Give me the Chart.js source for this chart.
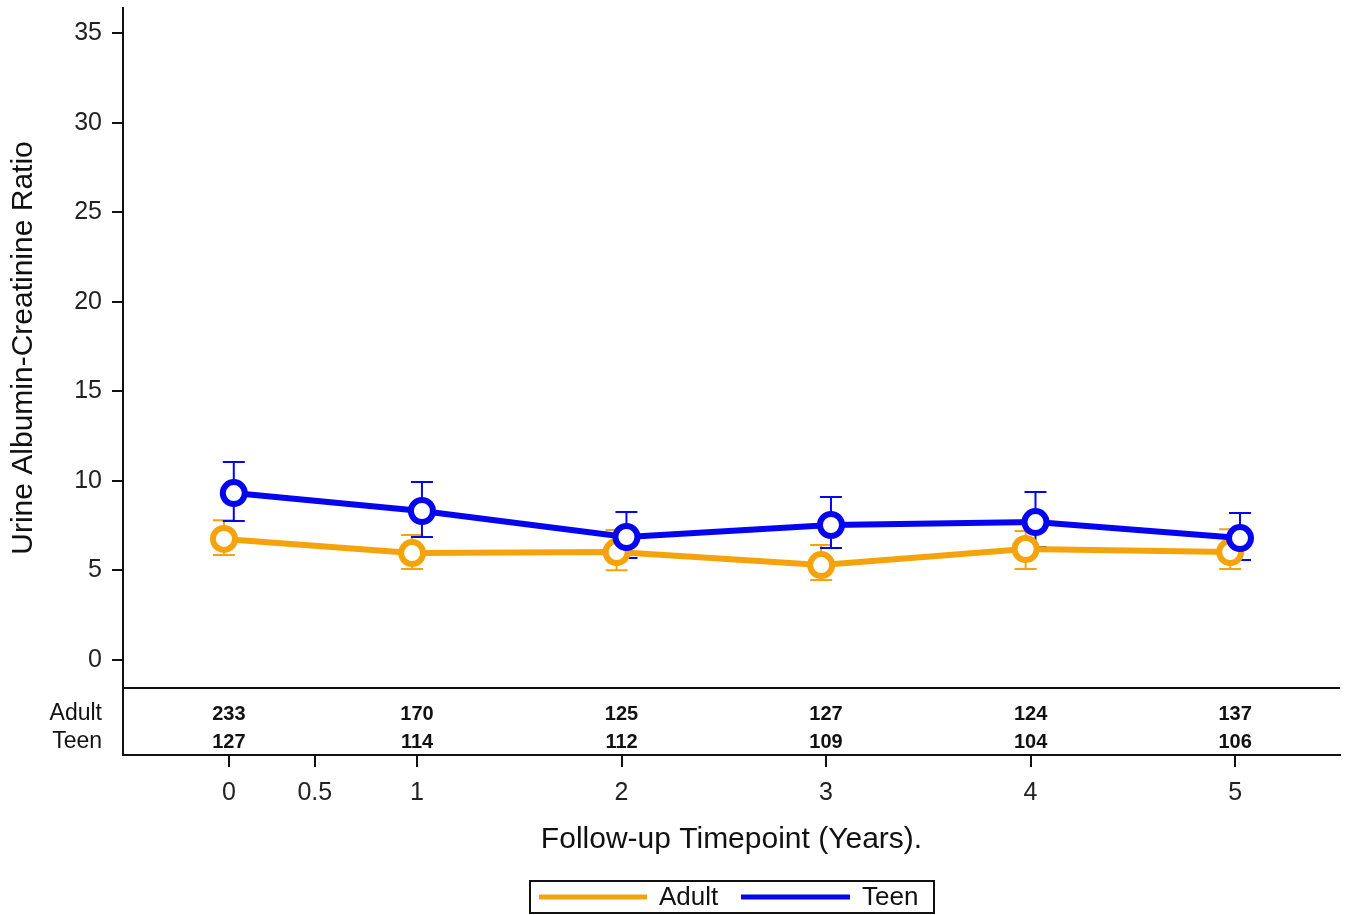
<!DOCTYPE html>
<html>
<head>
<meta charset="utf-8">
<script src="https://cdn.jsdelivr.net/npm/chart.js@4"></script>
<style>
  body { margin: 0; background: #fff; }
  #wrap { width: 1349px; height: 915px; }
</style>
</head>
<body>
<div id="wrap"><canvas id="uacrChart" width="1349" height="915"></canvas></div>
<script>
// Data
const timepoints = [0.08, 1, 2, 3, 4, 5];
const tickValues = [0.08, 0.5, 1, 2, 3, 4, 5];
const tickLabels = ['0', '0.5', '1', '2', '3', '4', '5'];
const yTicks = [0, 5, 10, 15, 20, 25, 30, 35];

const adultMean  = [6.76, 5.97, 6.03, 5.30, 6.20, 6.03];
const adultUpper = [7.80, 6.98, 7.26, 6.42, 7.20, 7.30];
const adultLower = [5.86, 5.08, 5.02, 4.47, 5.08, 5.08];

const teenMean  = [9.32, 8.32, 6.87, 7.54, 7.70, 6.81];
const teenUpper = [11.06, 9.94, 8.26, 9.10, 9.38, 8.21];
const teenLower = [7.76, 6.87, 5.70, 6.25, 6.31, 5.58];

const adultN = [233, 170, 125, 127, 124, 137];
const teenN  = [127, 114, 112, 109, 104, 106];

const ORANGE = '#F5A30C';
const BLUE = '#0505F0';
const FONT = '"Liberation Sans", Arial, sans-serif';
const jitter = 0.024;
const tableLine = -1.56;

function pts(means, shift) {
    return means.map((m, i) => ({ x: timepoints[i] + shift, y: m }));
}

// error bars, drawn before points so circles sit on top
const errorBars = {
    id: 'errorBars',
    beforeDatasetsDraw(chart) {
        const { ctx, scales: { x, y } } = chart;
        const sets = [
            { up: adultUpper, lo: adultLower, shift: -jitter, color: ORANGE },
            { up: teenUpper, lo: teenLower, shift: jitter, color: BLUE }
        ];
        ctx.save();
        ctx.lineWidth = 2;
        sets.forEach(s => {
            ctx.strokeStyle = s.color;
            timepoints.forEach((t, i) => {
                const px = x.getPixelForValue(t + s.shift);
                const yt = y.getPixelForValue(s.up[i]);
                const yb = y.getPixelForValue(s.lo[i]);
                ctx.beginPath();
                ctx.moveTo(px, yt); ctx.lineTo(px, yb);
                ctx.moveTo(px - 11, yt); ctx.lineTo(px + 11, yt);
                ctx.moveTo(px - 11, yb); ctx.lineTo(px + 11, yb);
                ctx.stroke();
            });
        });
        ctx.restore();
    }
};

// at-risk table, titles and legend box
const extras = {
    id: 'extras',
    afterDraw(chart) {
        const { ctx, chartArea: a, scales: { x, y } } = chart;
        ctx.save();
        // table separator line
        const ly = y.getPixelForValue(tableLine);
        ctx.strokeStyle = '#111';
        ctx.lineWidth = 2;
        ctx.beginPath();
        ctx.moveTo(a.left, ly); ctx.lineTo(a.right, ly);
        ctx.stroke();

        // row labels
        ctx.fillStyle = '#111';
        ctx.font = '23px ' + FONT;
        ctx.textAlign = 'right';
        ctx.textBaseline = 'middle';
        ctx.fillText('Adult', 102, 714);
        ctx.fillText('Teen', 102, 742);

        // counts
        ctx.font = 'bold 20px ' + FONT;
        ctx.textAlign = 'center';
        timepoints.forEach((t, i) => {
            const px = x.getPixelForValue(t);
            ctx.fillText(String(adultN[i]), px, 714);
            ctx.fillText(String(teenN[i]), px, 742);
        });

        // x title
        ctx.font = '30px ' + FONT;
        ctx.fillText('Follow-up Timepoint (Years).', (a.left + a.right) / 2, 840);

        // y title
        ctx.save();
        ctx.translate(24, (a.top + ly) / 2);
        ctx.rotate(-Math.PI / 2);
        ctx.fillText('Urine Albumin-Creatinine Ratio', 0, 0);
        ctx.restore();

        // legend
        const lx = 530, lyTop = 881, lw = 404, lh = 32;
        ctx.lineWidth = 2;
        ctx.strokeStyle = '#111';
        ctx.strokeRect(lx, lyTop, lw, lh);
        const my = lyTop + lh / 2;
        ctx.lineWidth = 5;
        ctx.strokeStyle = ORANGE;
        ctx.beginPath(); ctx.moveTo(539, my); ctx.lineTo(647, my); ctx.stroke();
        ctx.strokeStyle = BLUE;
        ctx.beginPath(); ctx.moveTo(741, my); ctx.lineTo(850, my); ctx.stroke();
        ctx.font = '26px ' + FONT;
        ctx.textAlign = 'left';
        ctx.fillStyle = '#111';
        ctx.fillText('Adult', 659, my + 1);
        ctx.fillText('Teen', 862, my + 1);
        ctx.restore();
    }
};

const ctx = document.getElementById('uacrChart').getContext('2d');
const uacrChart = new Chart(ctx, {
    type: 'line',
    data: {
        datasets: [{
            label: 'Adult',
            data: pts(adultMean, -jitter),
            borderColor: ORANGE,
            backgroundColor: '#fff',
            borderWidth: 6,
            pointRadius: 11,
            pointBorderWidth: 6,
            pointBackgroundColor: '#fff',
            pointBorderColor: ORANGE,
            order: 2
        }, {
            label: 'Teen',
            data: pts(teenMean, jitter),
            borderColor: BLUE,
            backgroundColor: '#fff',
            borderWidth: 6,
            pointRadius: 11,
            pointBorderWidth: 6,
            pointBackgroundColor: '#fff',
            pointBorderColor: BLUE,
            order: 1
        }]
    },
    options: {
        responsive: false,
        animation: false,
        layout: { autoPadding: false, padding: { left: 0, top: 8, right: 9, bottom: 0 } },
        plugins: { legend: { display: false }, tooltip: { enabled: false } },
        scales: {
            x: {
                type: 'linear',
                min: -0.4377,
                max: 5.513,
                afterFit(scale) {
                    scale.height = 160;
                    scale.paddingLeft = 0;
                    scale.paddingRight = 0;
                },
                afterBuildTicks(scale) { scale.ticks = tickValues.map(v => ({ value: v })); },
                border: { display: true, color: '#111', width: 2 },
                grid: { display: true, drawOnChartArea: false, drawTicks: true, tickLength: 12, color: '#111', lineWidth: 2 },
                ticks: {
                    autoSkip: false,
                    maxRotation: 0,
                    padding: 11,
                    color: '#222',
                    font: { family: FONT, size: 25 },
                    callback: (v) => tickLabels[tickValues.indexOf(v)]
                }
            },
            y: {
                type: 'linear',
                min: -5.30,
                max: 36.40,
                afterFit(scale) {
                    scale.width = 123;
                    scale.paddingTop = 0;
                    scale.paddingBottom = 0;
                },
                afterBuildTicks(scale) { scale.ticks = yTicks.map(v => ({ value: v })); },
                border: { display: true, color: '#111', width: 2 },
                grid: { display: true, drawOnChartArea: false, drawTicks: true, tickLength: 11, color: '#111', lineWidth: 2 },
                ticks: {
                    padding: 10,
                    color: '#222',
                    font: { family: FONT, size: 25 }
                }
            }
        }
    },
    plugins: [errorBars, extras]
});
</script>
</body>
</html>
